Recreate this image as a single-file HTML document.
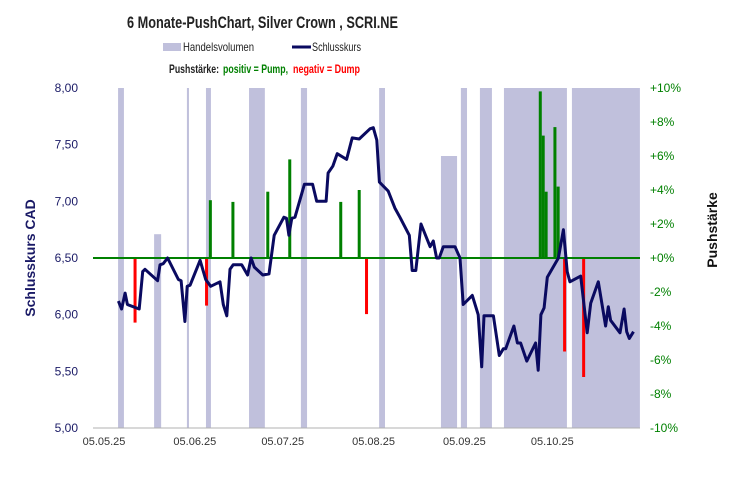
<!DOCTYPE html>
<html><head><meta charset="utf-8"><style>
html,body{margin:0;padding:0;background:#fff}
svg{display:block;font-family:"Liberation Sans",sans-serif}
</style></head><body>
<svg id="chart" width="734" height="480" viewBox="0 0 734 480">
<text x="127" y="28" font-size="17" font-weight="bold" fill="#222" textLength="271" lengthAdjust="spacingAndGlyphs">6 Monate-PushChart,  Silver Crown , SCRI.NE</text>
<g>
<rect x="163" y="43" width="18" height="8" fill="#c0c0dc"/>
<text x="183" y="51" font-size="12" fill="#222" textLength="71" lengthAdjust="spacingAndGlyphs">Handelsvolumen</text>
<line x1="292" y1="47" x2="311" y2="47" stroke="#0a0a60" stroke-width="3"/>
<text x="312" y="51" font-size="12" fill="#222" textLength="49" lengthAdjust="spacingAndGlyphs">Schlusskurs</text>
<text x="169" y="73" font-size="12" font-weight="bold" fill="#222" textLength="50" lengthAdjust="spacingAndGlyphs">Pushstärke:</text>
<text x="223" y="73" font-size="12" font-weight="bold" fill="#008000" textLength="65" lengthAdjust="spacingAndGlyphs">positiv = Pump,</text>
<text x="293" y="73" font-size="12" font-weight="bold" fill="#ff0000" textLength="67" lengthAdjust="spacingAndGlyphs">negativ = Dump</text>
</g>
<g id="vol"></g>
<g id="axes"></g>
<g id="push"></g>
<g id="line"></g>
<text transform="translate(35,258) rotate(-90)" text-anchor="middle" font-size="14" font-weight="bold" fill="#1a1a66">Schlusskurs CAD</text>
<text transform="translate(717,230) rotate(-90)" text-anchor="middle" font-size="14" font-weight="bold" fill="#111">Pushstärke</text>
</svg>
<script>
const priceDays=[4.9,6.0,7.2,8.0,12.0,13.2,14.0,18.3,19.1,20.2,21.7,25.4,26.3,27.6,28.4,29.4,32.8,34.7,36.4,39.6,40.7,41.9,43.0,44.1,47.0,49.0,50.2,51.3,54.2,56.3,58.1,61.4,62.3,63.1,64.1,65.2,68.4,71.2,72.6,75.8,76.5,78.1,79.6,82.8,84.7,87.1,90.8,91.9,93.1,94.0,97.0,99.3,101.0,104.2,105.2,106.4,108.2,111.3,112.4,113.5,114.4,115.8,119.8,121.5,122.6,125.7,127.7,128.9,129.7,132.9,134.9,136.3,137.1,139.9,141.1,142.2,144.3,147.3,148.2,149.1,150.2,151.3,155.1,156.8,158.1,159.0,162.7,164.9,166.1,168.7,171.2,172.1,172.9,176.1,177.5,178.4,179.3,180.7];
const closes=[6.12,6.05,6.19,6.09,6.05,6.38,6.40,6.30,6.44,6.45,6.50,6.31,6.30,5.94,6.25,6.26,6.48,6.31,6.25,6.29,6.09,5.99,6.40,6.44,6.44,6.35,6.50,6.42,6.35,6.36,6.70,6.86,6.85,6.70,6.85,6.86,7.15,7.15,7.00,7.00,7.25,7.31,7.42,7.37,7.56,7.55,7.64,7.65,7.54,7.17,7.09,6.94,6.86,6.70,6.39,6.39,6.80,6.60,6.65,6.50,6.50,6.60,6.60,6.50,6.09,6.17,6.00,5.54,5.99,5.99,5.64,5.70,5.70,5.90,5.75,5.75,5.59,5.75,5.51,6.00,6.06,6.33,6.50,6.75,6.38,6.29,6.34,5.84,6.10,6.29,5.90,6.07,5.95,5.84,6.05,5.85,5.79,5.85];
const pushDays=[10.6,35.0,36.3,44.0,55.9,63.4,80.8,87.1,89.6,148.9,149.9,150.9,153.9,155.0,157.2,163.7];
const pushValues=[-3.8,-2.8,3.4,3.3,3.9,5.8,3.3,4.0,-3.3,9.8,7.2,3.9,7.7,4.2,-5.5,-7.0];
const volStart=[4.8,17.1,28.3,34.8,49.5,67.2,93.9,115.0,121.8,128.3,136.5,159.7];
const volEnd=[6.8,19.5,29.0,36.5,54.9,69.3,95.9,120.5,123.9,132.4,158.0,182.9];
const volLevel=[1,0.57,1,1,1,1,1,0.8,1,1,1,1];
const leftTicks=["5,00","5,50","6,00","6,50","7,00","7,50","8,00"];
const leftTickValues=[5,5.5,6,6.5,7,7.5,8];
const rightTickValues=[-10,-8,-6,-4,-2,0,2,4,6,8,10];
const xTickDays=[0,31,61,92,123,153];
const xTickLabels=["05.05.25","05.06.25","05.07.25","05.08.25","05.09.25","05.10.25"];

const NS="http://www.w3.org/2000/svg";
const X0=93,X1=640,Y0=88,Y1=428;
const xs=d=>104+d*2.93;
const yp=p=>Y1-(p-5)/3*(Y1-Y0);
const yr=v=>258-v*17;
function mk(tag,attrs,parent){const e=document.createElementNS(NS,tag);for(const k in attrs)e.setAttribute(k,attrs[k]);document.getElementById(parent).appendChild(e);return e;}

for(let i=0;i<volStart.length;i++){
 const e=mk('rect',{x:xs(volStart[i]),y:Y1-volLevel[i]*(Y1-Y0),width:xs(volEnd[i])-xs(volStart[i]),height:volLevel[i]*(Y1-Y0),fill:'#c0c0dc'},'vol');
 
 
}
const base=mk('line',{x1:X0,y1:Y1,x2:X1,y2:Y1,stroke:'#b0b0b0','stroke-width':1},'axes');


leftTicks.forEach((t,i)=>{
 const e=mk('text',{x:78,y:yp(leftTickValues[i])+4,'text-anchor':'end','font-size':12,fill:'#1a1a66'},'axes');e.textContent=t;
 
 
});
rightTickValues.forEach(v=>{
 const e=mk('text',{x:650,y:yr(v)+4,'font-size':12,fill:'#008000'},'axes');
 e.textContent=(v>0?'+':v<0?'-':'+')+Math.abs(v)+'%';
 
 
});
xTickLabels.forEach((t,i)=>{
 const e=mk('text',{x:xs(xTickDays[i]),y:445,'text-anchor':'middle','font-size':11,fill:'#333'},'axes');e.textContent=t;
 
 
});
pushDays.forEach((d,i)=>{
 const v=pushValues[i];
 const e=mk('rect',{x:xs(d)-1.5,y:Math.min(yr(v),yr(0)),width:3,height:Math.abs(yr(v)-yr(0)),fill:v>=0?'#008000':'#ff0000'},'push');
 
 
});
const zero=mk('line',{x1:X0,y1:yr(0),x2:X1,y2:yr(0),stroke:'#008000','stroke-width':2},'push');


const pts=priceDays.map((d,i)=>xs(d).toFixed(1)+','+yp(closes[i]).toFixed(1)).join(' ');
const pl=mk('polyline',{points:pts,fill:'none',stroke:'#0a0a60','stroke-width':3,'stroke-linejoin':'round'},'line');


</script>
</body></html>
